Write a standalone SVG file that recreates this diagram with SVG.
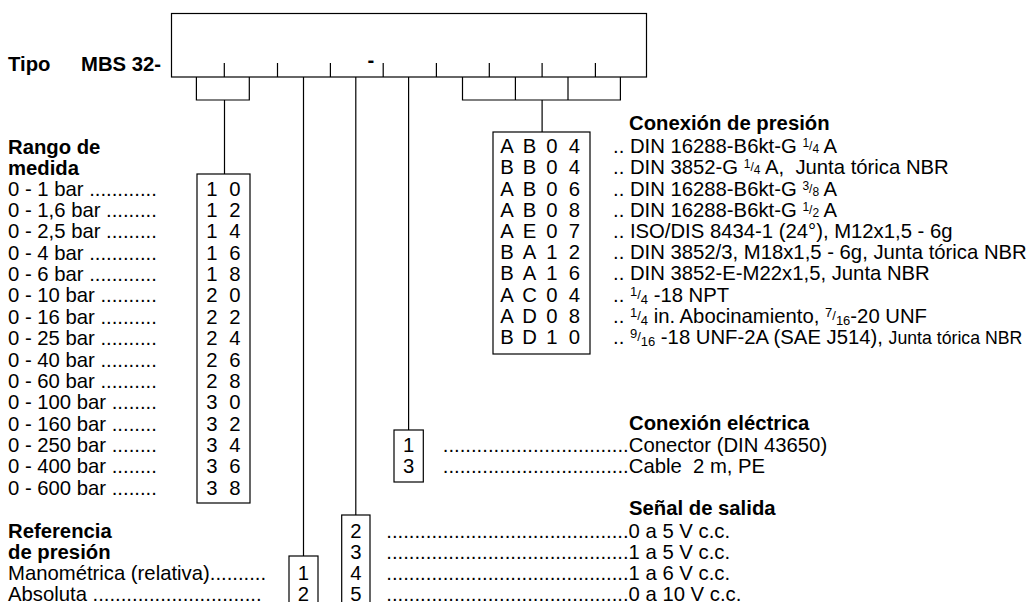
<svg xmlns="http://www.w3.org/2000/svg" width="1032" height="602" viewBox="0 0 1032 602">
<style>
text{font-family:"Liberation Sans",Arial,sans-serif;font-size:20.3px;fill:#000}
.b{font-weight:bold}
.c{text-anchor:middle}
.fr{font-size:12px}
.fr2{font-size:13px}
.sm{font-size:17.7px}
.ln{stroke:#000;stroke-width:1.2;fill:none}
.bx{stroke:#000;stroke-width:1.2;fill:#fff}
</style>
<rect width="1032" height="602" fill="#fff"/>
<g id="type-code">
<text class="b" x="8" y="71">Tipo</text>
<text class="b" x="81" y="71">MBS 32-</text>
<rect class="bx" x="171.5" y="13.5" width="475" height="63.5"/>
<path class="ln" d="M224.3 63V77M277.5 63V77M330.4 63V77M383.2 63V77M436.4 63V77M489.3 63V77M542.1 63V77M595.4 63V77"/>
<text class="b c" x="371" y="67">-</text>
</g>
<g id="connectors">
<path class="ln" d="M196.4 77V100H249.3V77M224.5 100V174"/>
<path class="ln" d="M303.5 77V556"/>
<path class="ln" d="M355.8 77V515"/>
<path class="ln" d="M408.6 77V430"/>
<path class="ln" d="M462.5 77V100H620.4V77M515.4 77V100M568 77V100M542.1 100V132"/>
</g>
<g id="range">
<text class="b" x="8" y="154">Rango de</text>
<text class="b" x="8" y="175.2">medida</text>
<text x="8" y="195.7">0 - 1 bar ............</text>
<text x="8" y="217.05">0 - 1,6 bar .........</text>
<text x="8" y="238.4">0 - 2,5 bar .........</text>
<text x="8" y="259.75">0 - 4 bar ............</text>
<text x="8" y="281.1">0 - 6 bar ............</text>
<text x="8" y="302.45">0 - 10 bar ..........</text>
<text x="8" y="323.8">0 - 16 bar ..........</text>
<text x="8" y="345.15">0 - 25 bar ..........</text>
<text x="8" y="366.5">0 - 40 bar ..........</text>
<text x="8" y="387.85">0 - 60 bar ..........</text>
<text x="8" y="409.2">0 - 100 bar ........</text>
<text x="8" y="430.55">0 - 160 bar ........</text>
<text x="8" y="451.9">0 - 250 bar ........</text>
<text x="8" y="473.25">0 - 400 bar ........</text>
<text x="8" y="494.6">0 - 600 bar ........</text>
<rect class="bx" x="197" y="174" width="53" height="329"/>
<g class="c">
<text x="212 223.5 235" y="195.7">1 0</text>
<text x="212 223.5 235" y="217.05">1 2</text>
<text x="212 223.5 235" y="238.4">1 4</text>
<text x="212 223.5 235" y="259.75">1 6</text>
<text x="212 223.5 235" y="281.1">1 8</text>
<text x="212 223.5 235" y="302.45">2 0</text>
<text x="212 223.5 235" y="323.8">2 2</text>
<text x="212 223.5 235" y="345.15">2 4</text>
<text x="212 223.5 235" y="366.5">2 6</text>
<text x="212 223.5 235" y="387.85">2 8</text>
<text x="212 223.5 235" y="409.2">3 0</text>
<text x="212 223.5 235" y="430.55">3 2</text>
<text x="212 223.5 235" y="451.9">3 4</text>
<text x="212 223.5 235" y="473.25">3 6</text>
<text x="212 223.5 235" y="494.6">3 8</text>
</g>
</g>
<g id="pressure-connection">
<rect class="bx" x="493" y="132" width="97" height="222"/>
<g class="c">
<text x="507 518.2 529.5 540.7 552 563.2 574.5" y="153.2">A B 0 4</text>
<text x="507 518.2 529.5 540.7 552 563.2 574.5" y="174.4">B B 0 4</text>
<text x="507 518.2 529.5 540.7 552 563.2 574.5" y="195.6">A B 0 6</text>
<text x="507 518.2 529.5 540.7 552 563.2 574.5" y="216.8">A B 0 8</text>
<text x="507 518.2 529.5 540.7 552 563.2 574.5" y="238">A E 0 7</text>
<text x="507 518.2 529.5 540.7 552 563.2 574.5" y="259.2">B A 1 2</text>
<text x="507 518.2 529.5 540.7 552 563.2 574.5" y="280.4">B A 1 6</text>
<text x="507 518.2 529.5 540.7 552 563.2 574.5" y="301.6">A C 0 4</text>
<text x="507 518.2 529.5 540.7 552 563.2 574.5" y="322.8">A D 0 8</text>
<text x="507 518.2 529.5 540.7 552 563.2 574.5" y="344">B D 1 0</text>
</g>
<text class="b" x="629" y="130">Conexión de presión</text>
<text x="613" y="153.2">.. DIN 16288-B6kt-G <tspan class="fr" dy="-6">1</tspan><tspan class="fr" dy="3">/</tspan><tspan class="fr" dy="3">4</tspan> A</text>
<text x="613" y="174.4" xml:space="preserve">.. DIN 3852-G <tspan class="fr" dy="-6">1</tspan><tspan class="fr" dy="3">/</tspan><tspan class="fr" dy="3">4</tspan> A,  Junta tórica NBR</text>
<text x="613" y="195.6">.. DIN 16288-B6kt-G <tspan class="fr" dy="-6">3</tspan><tspan class="fr" dy="3">/</tspan><tspan class="fr" dy="3">8</tspan> A</text>
<text x="613" y="216.8">.. DIN 16288-B6kt-G <tspan class="fr" dy="-6">1</tspan><tspan class="fr" dy="3">/</tspan><tspan class="fr" dy="3">2</tspan> A</text>
<text x="613" y="238">.. ISO/DIS 8434-1 (24°), M12x1,5 - 6g</text>
<text x="613" y="259.2">.. DIN 3852/3, M18x1,5 - 6g, Junta tórica NBR</text>
<text x="613" y="280.4">.. DIN 3852-E-M22x1,5, Junta NBR</text>
<text x="613" y="301.6">.. <tspan class="fr2" dy="-6">1</tspan><tspan class="fr2" dy="3">/</tspan><tspan class="fr2" dy="5">4</tspan><tspan dy="-2"> -18 NPT</tspan></text>
<text x="613" y="322.8">.. <tspan class="fr2" dy="-6">1</tspan><tspan class="fr2" dy="3">/</tspan><tspan class="fr2" dy="5">4</tspan><tspan dy="-2"> in. Abocinamiento, </tspan><tspan class="fr2" dy="-6">7</tspan><tspan class="fr2" dy="3">/</tspan><tspan class="fr2" dy="5">16</tspan><tspan dy="-2">-20 UNF</tspan></text>
<text x="613" y="344">.. <tspan class="fr2" dy="-6">9</tspan><tspan class="fr2" dy="3">/</tspan><tspan class="fr2" dy="5">16</tspan><tspan dy="-2"> -18 UNF-2A (SAE J514), </tspan><tspan class="sm">Junta tórica NBR</tspan></text>
</g>
<g id="electrical-connection">
<rect class="bx" x="394" y="430" width="29.3" height="52"/>
<text class="c" x="408.7" y="452.2">1</text>
<text class="c" x="408.7" y="472.7">3</text>
<text class="b" x="629" y="430">Conexión eléctrica</text>
<text x="442.8" y="452.2">.................................Conector (DIN 43650)</text>
<text x="442.8" y="472.7" xml:space="preserve">.................................Cable  2 m, PE</text>
</g>
<g id="output-signal">
<rect class="bx" x="341.7" y="515" width="28.3" height="100"/>
<text class="c" x="356" y="537.7">2</text>
<text class="c" x="356" y="558.7">3</text>
<text class="c" x="356" y="579.6">4</text>
<text class="c" x="356" y="600.5">5</text>
<text class="b" x="629" y="515">Señal de salida</text>
<text x="386.3" y="537.7">...........................................0 a 5 V c.c.</text>
<text x="386.3" y="558.7">...........................................1 a 5 V c.c.</text>
<text x="386.3" y="579.6">...........................................1 a 6 V c.c.</text>
<text x="386.3" y="600.5">...........................................0 a 10 V c.c.</text>
</g>
<g id="pressure-reference">
<text class="b" x="8" y="537.7">Referencia</text>
<text class="b" x="8" y="558.7">de presión</text>
<text x="8" y="579.6">Manométrica (relativa)..........</text>
<text x="8" y="600.5">Absoluta ..............................</text>
<rect class="bx" x="289" y="556" width="29" height="60"/>
<text class="c" x="303.5" y="579.6">1</text>
<text class="c" x="303.5" y="600.5">2</text>
</g>
</svg>
